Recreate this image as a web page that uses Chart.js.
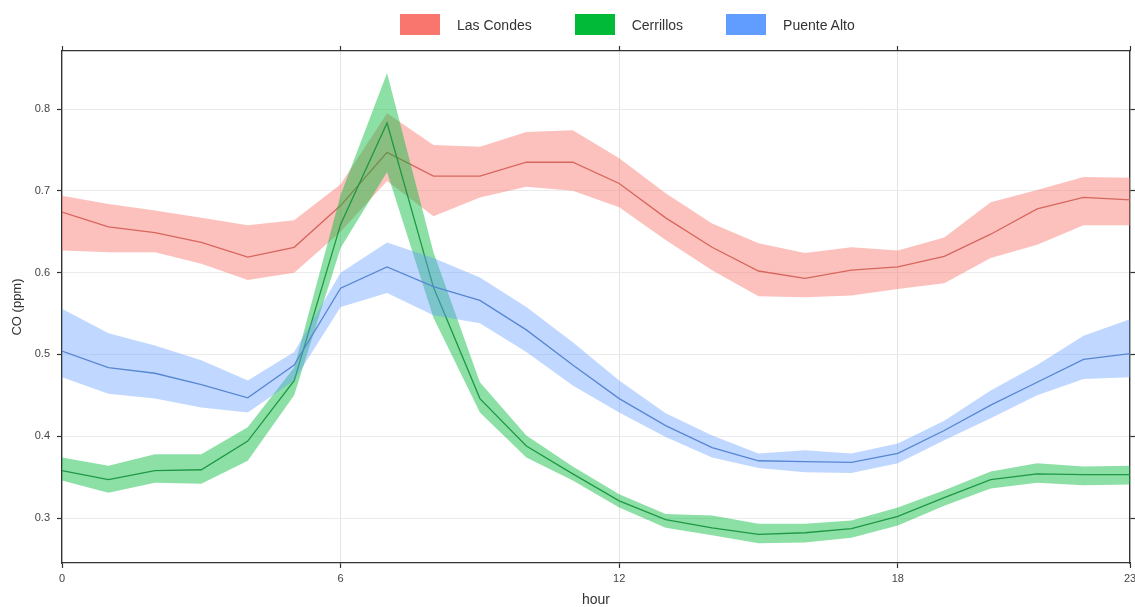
<!DOCTYPE html>
<html>
<head>
<meta charset="utf-8">
<script src="https://cdn.jsdelivr.net/npm/chart.js@4"></script>
<style>
  html, body { margin: 0; padding: 0; background: #fff; }
  #wrap { position: relative; width: 1135px; height: 607px; }
  #legend { position: absolute; left: 400px; top: 14px; display: flex; align-items: center;
            font-family: "Liberation Sans", Arial, sans-serif; font-size: 14px; color: #333; }
  .item { display: flex; align-items: center; margin-right: 43px; }
  .item:last-child { margin-right: 0; }
  .swatch { width: 40px; height: 21px; margin-right: 17px; }
</style>
</head>
<body>
<div id="wrap">
  <canvas id="c" width="1135" height="607"></canvas>
  <div id="legend"></div>
</div>
<script>
// Hour of day
const hours = [0,1,2,3,4,5,6,7,8,9,10,11,12,13,14,15,16,17,18,19,20,21,22,23];

// Las Condes: mean CO (ppm) and confidence band
const lasCondesMean  = [0.674,0.656,0.649,0.637,0.619,0.631,0.682,0.747,0.718,0.718,0.735,0.735,0.709,0.667,0.631,0.602,0.593,0.603,0.607,0.620,0.647,0.678,0.692,0.689];
const lasCondesUpper = [0.694,0.684,0.676,0.667,0.658,0.664,0.708,0.795,0.756,0.754,0.772,0.774,0.740,0.697,0.660,0.636,0.624,0.631,0.627,0.643,0.686,0.701,0.717,0.716];
const lasCondesLower = [0.627,0.625,0.625,0.611,0.591,0.600,0.650,0.712,0.669,0.692,0.705,0.700,0.680,0.640,0.603,0.571,0.570,0.572,0.580,0.587,0.618,0.634,0.658,0.658];

// Cerrillos
const cerrillosMean  = [0.358,0.347,0.358,0.359,0.394,0.468,0.659,0.783,0.582,0.446,0.388,0.354,0.321,0.298,0.288,0.280,0.282,0.287,0.302,0.325,0.347,0.354,0.353,0.353];
const cerrillosUpper = [0.374,0.364,0.378,0.378,0.411,0.484,0.695,0.844,0.625,0.466,0.401,0.363,0.329,0.305,0.303,0.293,0.293,0.297,0.313,0.334,0.357,0.367,0.363,0.364];
const cerrillosLower = [0.346,0.331,0.343,0.342,0.370,0.450,0.630,0.723,0.545,0.429,0.374,0.346,0.313,0.288,0.279,0.269,0.270,0.276,0.291,0.315,0.336,0.343,0.340,0.341];

// Puente Alto
const puenteAltoMean  = [0.504,0.484,0.477,0.463,0.447,0.487,0.581,0.607,0.583,0.566,0.530,0.487,0.446,0.413,0.386,0.370,0.369,0.368,0.379,0.407,0.438,0.466,0.494,0.501];
const puenteAltoUpper = [0.556,0.526,0.511,0.493,0.468,0.503,0.600,0.637,0.618,0.594,0.558,0.515,0.468,0.428,0.401,0.379,0.383,0.379,0.391,0.419,0.456,0.487,0.523,0.543];
const puenteAltoLower = [0.472,0.452,0.446,0.435,0.429,0.468,0.558,0.575,0.548,0.538,0.503,0.462,0.429,0.399,0.374,0.361,0.356,0.355,0.367,0.395,0.422,0.450,0.470,0.472];

// Axis ticks
const xTicks = [0, 6, 12, 18, 23];
const yTicks = [0.3, 0.4, 0.5, 0.6, 0.7, 0.8];

const series = [
  { name: 'Las Condes',  mean: lasCondesMean,  upper: lasCondesUpper,  lower: lasCondesLower,
    key: '#F8766D', band: 'rgba(248,118,109,0.45)', line: '#d7665e' },
  { name: 'Cerrillos',   mean: cerrillosMean,  upper: cerrillosUpper,  lower: cerrillosLower,
    key: '#00BA38', band: 'rgba(0,186,56,0.45)',    line: '#1e9844' },
  { name: 'Puente Alto', mean: puenteAltoMean, upper: puenteAltoUpper, lower: puenteAltoLower,
    key: '#619CFF', band: 'rgba(97,156,255,0.40)',  line: '#5787d2' }
];

const pts = arr => hours.map((h, i) => ({ x: h, y: arr[i] }));

// Each group: ribbon (upper filled down to lower), then the mean line.
// Earlier groups are drawn first (higher order value).
const datasets = [];
series.forEach((s, g) => {
  const base = (series.length - g) * 10;
  datasets.push({ label: s.name + ' upper', data: pts(s.upper), fill: '+1', backgroundColor: s.band,
                  borderWidth: 0, pointRadius: 0, order: base + 2 });
  datasets.push({ label: s.name + ' lower', data: pts(s.lower), fill: false,
                  borderWidth: 0, pointRadius: 0, order: base + 1 });
  datasets.push({ label: s.name, data: pts(s.mean), fill: false, borderColor: s.line,
                  borderWidth: 1.3, pointRadius: 0, order: base });
});

const frame = { display: true, color: '#333', width: 1.3 };
const tickFont = { family: '"Liberation Sans", Arial, sans-serif', size: 11 };

// Fixed axis thickness, no extra room reserved for overhanging labels
const fixH = h => a => { a.height = h; a.paddingLeft = 0; a.paddingRight = 0; };
const fixW = w => a => { a.width = w; a.paddingTop = 0; a.paddingBottom = 0; };

new Chart(document.getElementById('c'), {
  type: 'line',
  data: { datasets },
  options: {
    responsive: false,
    animation: false,
    layout: { padding: 0 },
    plugins: { legend: { display: false }, tooltip: { enabled: false } },
    elements: { line: { tension: 0 } },
    scales: {
      x: {
        type: 'linear', position: 'bottom', min: 0, max: 23,
        afterBuildTicks: a => { a.ticks = xTicks.map(v => ({ value: v })); },
        afterFit: fixH(44),
        ticks: { font: tickFont, color: '#444', padding: 4, maxRotation: 0 },
        grid: { color: '#e4e4e4', lineWidth: 1, tickLength: 5, tickColor: '#333', tickWidth: 1.2 },
        border: frame,
        title: { display: true, text: 'hour', color: '#333',
                 font: { family: '"Liberation Sans", Arial, sans-serif', size: 14, lineHeight: 1 },
                 padding: { top: 0, bottom: 0 } }
      },
      xTop: {
        type: 'linear', position: 'top', min: 0, max: 23,
        afterBuildTicks: a => { a.ticks = xTicks.map(v => ({ value: v })); },
        afterFit: fixH(51),
        ticks: { display: false },
        grid: { drawOnChartArea: false, tickLength: 5, tickColor: '#333', tickWidth: 1.2 },
        border: frame
      },
      y: {
        type: 'linear', position: 'left', min: 0.245, max: 0.871,
        afterBuildTicks: a => { a.ticks = yTicks.map(v => ({ value: v })); },
        afterFit: fixW(62),
        ticks: { font: tickFont, color: '#444', padding: 7, callback: v => v.toFixed(1) },
        grid: { color: '#ebebeb', lineWidth: 1, tickLength: 5, tickColor: '#333', tickWidth: 1.2 },
        border: frame,
        title: { display: true, text: 'CO (ppm)', color: '#333',
                 font: { family: '"Liberation Sans", Arial, sans-serif', size: 13 },
                 padding: { top: 10, bottom: 0 } }
      },
      yRight: {
        type: 'linear', position: 'right', min: 0.245, max: 0.871,
        afterBuildTicks: a => { a.ticks = yTicks.map(v => ({ value: v })); },
        afterFit: fixW(5),
        ticks: { display: false },
        grid: { drawOnChartArea: false, tickLength: 5, tickColor: '#333', tickWidth: 1.2 },
        border: frame
      }
    }
  }
});

// Legend keyed by location
const legend = document.getElementById('legend');
series.forEach(s => {
  const item = document.createElement('div');
  item.className = 'item';
  const sw = document.createElement('div');
  sw.className = 'swatch';
  sw.style.background = s.key;
  const tx = document.createElement('span');
  tx.textContent = s.name;
  item.appendChild(sw);
  item.appendChild(tx);
  legend.appendChild(item);
});
</script>
</body>
</html>
